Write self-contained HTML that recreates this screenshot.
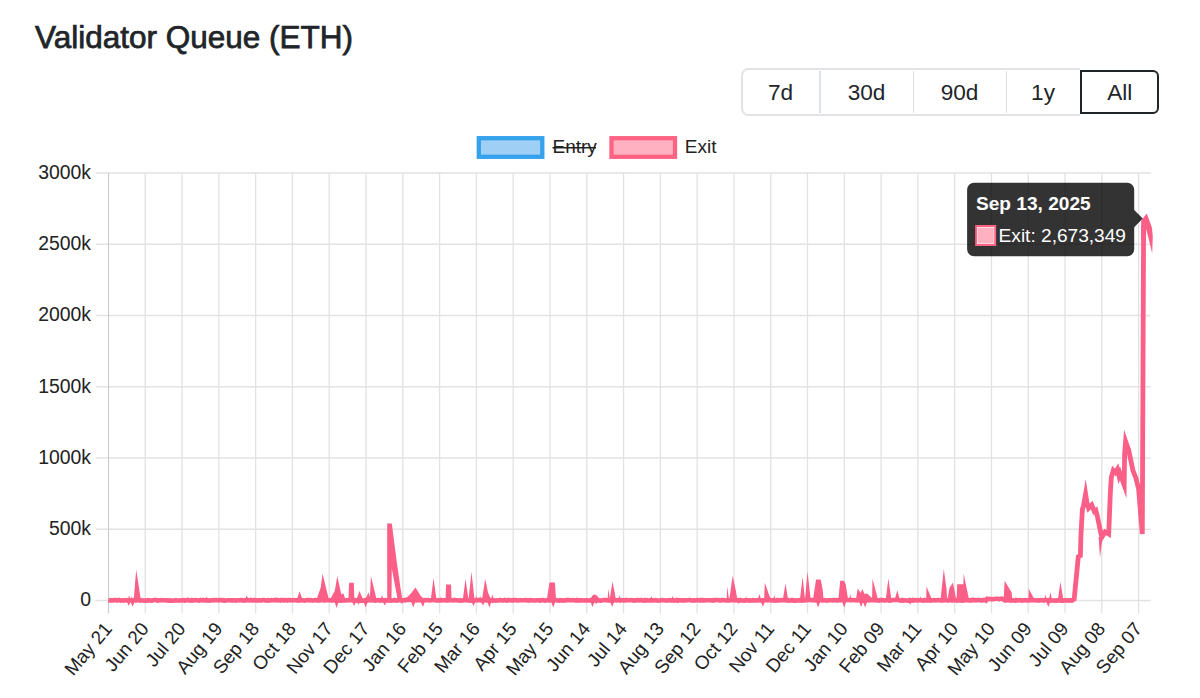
<!DOCTYPE html>
<html><head><meta charset="utf-8">
<style>
html,body{margin:0;padding:0;background:#fff;width:1200px;height:698px;overflow:hidden;}
body{position:relative;font-family:"Liberation Sans",sans-serif;color:#212529;}
.title{position:absolute;left:35px;top:22px;font-size:31.5px;line-height:1;-webkit-text-stroke:0.75px #212529;white-space:nowrap;color:#212529;}
.bg{position:absolute;left:741px;top:68px;width:418px;height:48px;box-sizing:border-box;border:2.8px solid #e1e3e7;border-radius:7.5px;}
.btn{position:absolute;top:69.0px;height:48px;box-sizing:border-box;font-size:22.6px;line-height:48px;text-align:center;color:#212529;}
.dv{position:absolute;top:71px;height:42px;width:1.5px;background:#dee2e6;}
.active{position:absolute;left:1080px;top:69.8px;width:79.3px;height:44px;box-sizing:border-box;border:2px solid #212529;border-radius:0 6px 6px 0;background:#fff;box-shadow:0 -2.8px 0 0 #fff,0 2.8px 0 0 #fff,2.8px 0 0 0 #fff,2px -2px 0 0 #fff,2px 2px 0 0 #fff;}
svg{position:absolute;left:0;top:0;}
</style></head><body>
<div class="title">Validator Queue (ETH)</div>
<div class="bg"></div>
<div class="dv" style="left:819px"></div>
<div class="dv" style="left:912.5px"></div>
<div class="dv" style="left:1005.7px"></div>
<div class="btn" style="left:741px;width:79px">7d</div>
<div class="btn" style="left:820px;width:93px">30d</div>
<div class="btn" style="left:913px;width:93px">90d</div>
<div class="btn" style="left:1006px;width:74px">1y</div>
<div class="active"></div>
<div class="btn" style="left:1080px;width:79.5px">All</div>
<svg width="1200" height="698" viewBox="0 0 1200 698">
<g stroke="#e2e2e2" stroke-width="1.3" fill="none">
<line x1="108.5" y1="173.0" x2="108.5" y2="613.2"/>
<line x1="145.29" y1="173.0" x2="145.29" y2="613.2"/>
<line x1="182.08" y1="173.0" x2="182.08" y2="613.2"/>
<line x1="218.87" y1="173.0" x2="218.87" y2="613.2"/>
<line x1="255.66" y1="173.0" x2="255.66" y2="613.2"/>
<line x1="292.45" y1="173.0" x2="292.45" y2="613.2"/>
<line x1="329.24" y1="173.0" x2="329.24" y2="613.2"/>
<line x1="366.03" y1="173.0" x2="366.03" y2="613.2"/>
<line x1="402.82" y1="173.0" x2="402.82" y2="613.2"/>
<line x1="439.61" y1="173.0" x2="439.61" y2="613.2"/>
<line x1="476.4" y1="173.0" x2="476.4" y2="613.2"/>
<line x1="513.19" y1="173.0" x2="513.19" y2="613.2"/>
<line x1="549.98" y1="173.0" x2="549.98" y2="613.2"/>
<line x1="586.77" y1="173.0" x2="586.77" y2="613.2"/>
<line x1="623.56" y1="173.0" x2="623.56" y2="613.2"/>
<line x1="660.35" y1="173.0" x2="660.35" y2="613.2"/>
<line x1="697.14" y1="173.0" x2="697.14" y2="613.2"/>
<line x1="733.93" y1="173.0" x2="733.93" y2="613.2"/>
<line x1="770.72" y1="173.0" x2="770.72" y2="613.2"/>
<line x1="807.51" y1="173.0" x2="807.51" y2="613.2"/>
<line x1="844.3" y1="173.0" x2="844.3" y2="613.2"/>
<line x1="881.09" y1="173.0" x2="881.09" y2="613.2"/>
<line x1="917.88" y1="173.0" x2="917.88" y2="613.2"/>
<line x1="954.67" y1="173.0" x2="954.67" y2="613.2"/>
<line x1="991.46" y1="173.0" x2="991.46" y2="613.2"/>
<line x1="1028.25" y1="173.0" x2="1028.25" y2="613.2"/>
<line x1="1065.04" y1="173.0" x2="1065.04" y2="613.2"/>
<line x1="1101.83" y1="173.0" x2="1101.83" y2="613.2"/>
<line x1="1138.62" y1="173.0" x2="1138.62" y2="613.2"/>
<line x1="95.8" y1="173.0" x2="1150.6" y2="173.0"/>
<line x1="95.8" y1="244.25" x2="1150.6" y2="244.25"/>
<line x1="95.8" y1="315.5" x2="1150.6" y2="315.5"/>
<line x1="95.8" y1="386.75" x2="1150.6" y2="386.75"/>
<line x1="95.8" y1="458.0" x2="1150.6" y2="458.0"/>
<line x1="95.8" y1="529.25" x2="1150.6" y2="529.25"/>
<line x1="95.8" y1="600.5" x2="1150.6" y2="600.5"/>
</g>
<line x1="108.5" y1="173.0" x2="108.5" y2="613.2" stroke="#cdcdcd" stroke-width="1"/>
<g font-family="Liberation Sans, sans-serif" font-size="19.4" fill="#222">
<text x="91" y="178.9" text-anchor="end">3000k</text>
<text x="91" y="250.2" text-anchor="end">2500k</text>
<text x="91" y="321.4" text-anchor="end">2000k</text>
<text x="91" y="392.6" text-anchor="end">1500k</text>
<text x="91" y="463.9" text-anchor="end">1000k</text>
<text x="91" y="535.1" text-anchor="end">500k</text>
<text x="91" y="606.4" text-anchor="end">0</text>
</g>
<g font-family="Liberation Sans, sans-serif" font-size="18.9" fill="#222">
<text transform="translate(113.0,629.3) rotate(-50)" text-anchor="end">May 21</text>
<text transform="translate(149.8,629.3) rotate(-50)" text-anchor="end">Jun 20</text>
<text transform="translate(186.6,629.3) rotate(-50)" text-anchor="end">Jul 20</text>
<text transform="translate(223.4,629.3) rotate(-50)" text-anchor="end">Aug 19</text>
<text transform="translate(260.2,629.3) rotate(-50)" text-anchor="end">Sep 18</text>
<text transform="translate(296.9,629.3) rotate(-50)" text-anchor="end">Oct 18</text>
<text transform="translate(333.7,629.3) rotate(-50)" text-anchor="end">Nov 17</text>
<text transform="translate(370.5,629.3) rotate(-50)" text-anchor="end">Dec 17</text>
<text transform="translate(407.3,629.3) rotate(-50)" text-anchor="end">Jan 16</text>
<text transform="translate(444.1,629.3) rotate(-50)" text-anchor="end">Feb 15</text>
<text transform="translate(480.9,629.3) rotate(-50)" text-anchor="end">Mar 16</text>
<text transform="translate(517.7,629.3) rotate(-50)" text-anchor="end">Apr 15</text>
<text transform="translate(554.5,629.3) rotate(-50)" text-anchor="end">May 15</text>
<text transform="translate(591.3,629.3) rotate(-50)" text-anchor="end">Jun 14</text>
<text transform="translate(628.1,629.3) rotate(-50)" text-anchor="end">Jul 14</text>
<text transform="translate(664.9,629.3) rotate(-50)" text-anchor="end">Aug 13</text>
<text transform="translate(701.6,629.3) rotate(-50)" text-anchor="end">Sep 12</text>
<text transform="translate(738.4,629.3) rotate(-50)" text-anchor="end">Oct 12</text>
<text transform="translate(775.2,629.3) rotate(-50)" text-anchor="end">Nov 11</text>
<text transform="translate(812.0,629.3) rotate(-50)" text-anchor="end">Dec 11</text>
<text transform="translate(848.8,629.3) rotate(-50)" text-anchor="end">Jan 10</text>
<text transform="translate(885.6,629.3) rotate(-50)" text-anchor="end">Feb 09</text>
<text transform="translate(922.4,629.3) rotate(-50)" text-anchor="end">Mar 11</text>
<text transform="translate(959.2,629.3) rotate(-50)" text-anchor="end">Apr 10</text>
<text transform="translate(996.0,629.3) rotate(-50)" text-anchor="end">May 10</text>
<text transform="translate(1032.8,629.3) rotate(-50)" text-anchor="end">Jun 09</text>
<text transform="translate(1069.5,629.3) rotate(-50)" text-anchor="end">Jul 09</text>
<text transform="translate(1106.3,629.3) rotate(-50)" text-anchor="end">Aug 08</text>
<text transform="translate(1143.1,629.3) rotate(-50)" text-anchor="end">Sep 07</text>
</g>
<rect x="478.8" y="138.2" width="63.5" height="18.6" fill="#a0cff5" stroke="#36a2eb" stroke-width="4.3"/>
<text x="552.5" y="153.3" font-family="Liberation Sans, sans-serif" font-size="19" fill="#222">Entry</text>
<line x1="552.5" y1="147.8" x2="596" y2="147.8" stroke="#222" stroke-width="1.5"/>
<rect x="611.5" y="138.2" width="63.5" height="18.6" fill="#ffb1c1" stroke="#ff6384" stroke-width="4.3"/>
<text x="684.8" y="153.3" font-family="Liberation Sans, sans-serif" font-size="19" fill="#222">Exit</text>
<g fill="none" stroke="#fb5e86" stroke-linejoin="miter" stroke-miterlimit="10">
<path d="M108.40,600.12 L109.63,600.33 L110.85,600.21 L112.08,600.37 L113.31,600.39 L114.54,600.00 L115.76,599.96 L116.99,600.54 L118.22,600.13 L119.45,600.11 L120.67,600.65 L121.90,600.28 L123.13,600.54 L124.36,600.28 L125.58,600.40 L126.81,600.06 L128.04,600.39 L129.26,600.56 L130.49,600.32 L131.72,600.47 L132.95,600.42 L134.17,599.99 L135.40,600.48 L136.63,600.36 L137.86,600.16 L139.08,599.97 L140.31,600.56 L141.54,600.28 L142.77,600.45 L143.99,600.57 L145.22,600.45 L146.45,600.59 L147.67,600.23 L148.90,600.51 L150.13,600.26 L151.36,600.60 L152.58,600.57 L153.81,600.02 L155.04,600.05 L156.27,600.10 L157.49,600.63 L158.72,600.26 L159.95,600.39 L161.18,600.16 L162.40,600.31 L163.63,600.22 L164.86,600.20 L166.08,600.36 L167.31,600.36 L168.54,600.58 L169.77,600.43 L170.99,600.60 L172.22,600.55 L173.45,600.64 L174.68,600.42 L175.90,600.06 L177.13,600.55 L178.36,600.63 L179.59,600.58 L180.81,600.35 L182.04,600.45 L183.27,600.10 L184.49,600.53 L185.72,600.35 L186.95,600.15 L188.18,599.99 L189.40,600.55 L190.63,600.64 L191.86,600.01 L193.09,600.51 L194.31,600.24 L195.54,600.06 L196.77,600.16 L198.00,600.49 L199.22,600.56 L200.45,599.98 L201.68,600.38 L202.90,599.98 L204.13,600.45 L205.36,600.18 L206.59,600.57 L207.81,600.64 L209.04,600.30 L210.27,600.65 L211.50,600.17 L212.72,600.00 L213.95,600.37 L215.18,599.97 L216.41,600.09 L217.63,600.24 L218.86,600.38 L220.09,600.06 L221.31,599.98 L222.54,600.56 L223.77,600.17 L225.00,600.62 L226.22,600.58 L227.45,600.21 L228.68,600.27 L229.91,600.31 L231.13,600.40 L232.36,600.37 L233.59,600.34 L234.82,600.38 L236.04,600.61 L237.27,600.30 L238.50,600.25 L239.72,600.45 L240.95,600.12 L242.18,600.16 L243.41,600.63 L244.63,600.31 L245.86,600.33 L247.09,599.96 L248.32,600.24 L249.54,600.36 L250.77,599.96 L252.00,600.38 L253.23,600.39 L254.45,599.99 L255.68,600.39 L256.91,600.28 L258.13,600.43 L259.36,600.20 L260.59,600.44 L261.82,600.47 L263.04,599.97 L264.27,599.99 L265.50,600.42 L266.73,600.62 L267.95,600.13 L269.18,600.27 L270.41,600.36 L271.64,600.17 L272.86,600.20 L274.09,600.17 L275.32,600.21 L276.54,600.37 L277.77,600.16 L279.00,600.21 L280.23,600.49 L281.45,599.97 L282.68,600.35 L283.91,600.46 L285.14,600.17 L286.36,600.11 L287.59,600.51 L288.82,600.12 L290.05,600.08 L291.27,600.25 L292.50,600.44 L293.73,600.02 L294.95,600.18 L296.18,600.18 L297.41,600.53 L298.64,600.26 L299.86,600.55 L301.09,600.07 L302.32,600.19 L303.55,600.41 L304.77,600.57 L306.00,600.27 L307.23,600.11 L308.46,600.03 L309.68,600.32 L310.91,600.08 L312.14,600.51 L313.36,600.54 L314.59,600.08 L315.82,600.15 L317.05,600.52 L318.27,600.40 L319.50,600.51 L320.73,600.19 L321.96,600.04 L323.18,600.15 L324.41,600.51 L325.64,600.14 L326.87,600.19 L328.09,600.24 L329.32,600.24 L330.55,600.24 L331.77,600.59 L333.00,600.06 L334.23,599.95 L335.46,600.61 L336.68,600.57 L337.91,600.64 L339.14,600.25 L340.37,600.62 L341.59,600.60 L342.82,600.11 L344.05,600.47 L345.28,600.54 L346.50,600.41 L347.73,600.31 L348.96,600.15 L350.18,600.19 L351.41,600.11 L352.64,600.00 L353.87,600.36 L355.09,600.15 L356.32,600.52 L357.55,599.98 L358.78,600.58 L360.00,600.44 L361.23,600.60 L362.46,600.58 L363.69,600.58 L364.91,600.35 L366.14,599.96 L367.37,600.47 L368.59,600.07 L369.82,600.16 L371.05,600.41 L372.28,600.32 L373.50,600.24 L374.73,600.61 L375.96,600.38 L377.19,600.19 L378.41,600.13 L379.64,600.55 L380.87,600.28 L382.10,600.50 L383.32,600.20 L384.55,600.09 L385.78,600.32 L387.00,600.52 L388.23,600.07 L389.46,600.50 L390.69,600.60 L391.91,600.51 L393.14,600.53 L394.37,599.96 L395.60,600.39 L396.82,600.55 L398.05,599.98 L399.28,600.14 L400.51,600.14 L401.73,600.32 L402.96,600.25 L404.19,600.28 L405.41,600.49 L406.64,599.95 L407.87,599.99 L409.10,600.04 L410.32,600.04 L411.55,600.00 L412.78,600.63 L414.01,600.55 L415.23,600.01 L416.46,600.30 L417.69,600.17 L418.92,600.17 L420.14,600.20 L421.37,600.40 L422.60,600.36 L423.82,600.20 L425.05,600.08 L426.28,600.18 L427.51,600.04 L428.73,600.34 L429.96,600.45 L431.19,600.22 L432.42,600.01 L433.64,600.07 L434.87,600.21 L436.10,600.37 L437.33,600.50 L438.55,600.22 L439.78,600.51 L441.01,600.39 L442.23,600.25 L443.46,600.21 L444.69,600.30 L445.92,600.44 L447.14,600.24 L448.37,600.44 L449.60,600.27 L450.83,600.12 L452.05,600.33 L453.28,600.44 L454.51,600.00 L455.74,600.25 L456.96,600.25 L458.19,600.57 L459.42,600.61 L460.64,600.21 L461.87,600.58 L463.10,600.50 L464.33,600.13 L465.55,600.27 L466.78,600.04 L468.01,600.52 L469.24,600.41 L470.46,600.57 L471.69,600.50 L472.92,600.42 L474.15,600.46 L475.37,600.34 L476.60,600.02 L477.83,600.36 L479.05,599.95 L480.28,600.05 L481.51,600.49 L482.74,599.98 L483.96,600.01 L485.19,600.02 L486.42,600.57 L487.65,600.08 L488.87,599.97 L490.10,600.54 L491.33,600.03 L492.56,600.54 L493.78,600.42 L495.01,600.54 L496.24,600.62 L497.46,600.36 L498.69,600.51 L499.92,599.98 L501.15,600.49 L502.37,600.31 L503.60,600.45 L504.83,600.02 L506.06,600.47 L507.28,600.60 L508.51,599.99 L509.74,600.18 L510.97,600.34 L512.19,600.53 L513.42,600.12 L514.65,600.08 L515.87,600.12 L517.10,600.38 L518.33,600.48 L519.56,600.23 L520.78,600.21 L522.01,600.23 L523.24,600.20 L524.47,600.24 L525.69,600.01 L526.92,600.30 L528.15,600.63 L529.38,600.24 L530.60,600.47 L531.83,600.06 L533.06,600.43 L534.28,600.48 L535.51,600.42 L536.74,600.31 L537.97,600.29 L539.19,600.40 L540.42,600.58 L541.65,600.05 L542.88,600.02 L544.10,600.47 L545.33,600.59 L546.56,600.31 L547.79,600.26 L549.01,600.45 L550.24,600.08 L551.47,600.14 L552.69,600.09 L553.92,600.36 L555.15,600.17 L556.38,600.11 L557.60,600.43 L558.83,600.62 L560.06,600.16 L561.29,600.44 L562.51,600.24 L563.74,600.55 L564.97,600.36 L566.20,600.14 L567.42,600.10 L568.65,599.97 L569.88,600.29 L571.10,600.22 L572.33,600.07 L573.56,600.20 L574.79,600.18 L576.01,600.49 L577.24,600.05 L578.47,600.64 L579.70,600.29 L580.92,600.37 L582.15,600.28 L583.38,600.53 L584.61,600.53 L585.83,600.34 L587.06,600.29 L588.29,600.45 L589.51,600.55 L590.74,600.23 L591.97,600.46 L593.20,600.62 L594.42,600.28 L595.65,600.11 L596.88,600.11 L598.11,600.45 L599.33,600.42 L600.56,600.62 L601.79,600.55 L603.02,600.12 L604.24,600.08 L605.47,600.13 L606.70,600.08 L607.92,600.44 L609.15,600.55 L610.38,600.58 L611.61,600.13 L612.83,600.56 L614.06,600.17 L615.29,600.25 L616.52,600.46 L617.74,600.01 L618.97,600.01 L620.20,600.53 L621.43,600.15 L622.65,600.20 L623.88,600.36 L625.11,600.42 L626.33,599.95 L627.56,600.18 L628.79,600.26 L630.02,600.29 L631.24,600.10 L632.47,600.36 L633.70,600.62 L634.93,600.22 L636.15,600.33 L637.38,600.03 L638.61,600.14 L639.84,600.42 L641.06,600.03 L642.29,600.57 L643.52,600.59 L644.74,600.02 L645.97,600.61 L647.20,600.21 L648.43,600.49 L649.65,600.48 L650.88,600.16 L652.11,600.42 L653.34,600.41 L654.56,600.51 L655.79,600.14 L657.02,600.48 L658.25,600.62 L659.47,600.42 L660.70,600.33 L661.93,600.03 L663.15,600.30 L664.38,600.20 L665.61,600.45 L666.84,600.42 L668.06,600.35 L669.29,600.08 L670.52,600.40 L671.75,600.39 L672.97,600.08 L674.20,600.57 L675.43,600.41 L676.66,600.04 L677.88,600.60 L679.11,600.05 L680.34,600.18 L681.56,600.45 L682.79,600.37 L684.02,600.34 L685.25,600.40 L686.47,600.27 L687.70,600.17 L688.93,600.07 L690.16,600.00 L691.38,600.45 L692.61,600.48 L693.84,600.33 L695.07,600.47 L696.29,600.20 L697.52,600.14 L698.75,600.22 L699.97,600.56 L701.20,599.98 L702.43,600.30 L703.66,600.12 L704.88,600.49 L706.11,600.20 L707.34,600.18 L708.57,600.23 L709.79,600.33 L711.02,600.49 L712.25,600.20 L713.48,600.54 L714.70,600.03 L715.93,600.14 L717.16,600.02 L718.38,600.03 L719.61,600.50 L720.84,600.46 L722.07,600.08 L723.29,600.08 L724.52,600.24 L725.75,600.47 L726.98,600.52 L728.20,600.47 L729.43,600.36 L730.66,600.05 L731.89,600.23 L733.11,600.09 L734.34,600.32 L735.57,600.35 L736.79,600.09 L738.02,600.13 L739.25,600.50 L740.48,599.97 L741.70,600.51 L742.93,600.57 L744.16,600.61 L745.39,600.22 L746.61,600.34 L747.84,600.36 L749.07,600.39 L750.30,600.63 L751.52,600.43 L752.75,600.16 L753.98,600.55 L755.20,600.29 L756.43,600.37 L757.66,600.46 L758.89,599.95 L760.11,600.49 L761.34,600.41 L762.57,600.29 L763.80,600.32 L765.02,600.27 L766.25,600.09 L767.48,600.32 L768.71,599.98 L769.93,600.30 L771.16,600.40 L772.39,600.26 L773.61,600.35 L774.84,600.62 L776.07,600.57 L777.30,600.04 L778.52,600.50 L779.75,600.39 L780.98,599.99 L782.21,600.20 L783.43,600.11 L784.66,600.00 L785.89,600.33 L787.12,600.60 L788.34,600.18 L789.57,600.56 L790.80,600.44 L792.02,600.04 L793.25,600.55 L794.48,600.37 L795.71,600.60 L796.93,600.45 L798.16,600.47 L799.39,600.19 L800.62,600.51 L801.84,600.60 L803.07,600.55 L804.30,600.26 L805.53,600.48 L806.75,600.29 L807.98,600.03 L809.21,599.98 L810.43,600.00 L811.66,600.09 L812.89,600.06 L814.12,600.30 L815.34,600.44 L816.57,600.33 L817.80,600.25 L819.03,600.40 L820.25,600.16 L821.48,600.28 L822.71,600.48 L823.94,600.23 L825.16,600.08 L826.39,600.58 L827.62,600.45 L828.84,600.21 L830.07,600.21 L831.30,600.32 L832.53,600.37 L833.75,600.11 L834.98,599.95 L836.21,600.10 L837.44,600.50 L838.66,600.05 L839.89,600.27 L841.12,600.09 L842.35,600.10 L843.57,600.07 L844.80,600.23 L846.03,600.07 L847.25,599.97 L848.48,600.03 L849.71,600.07 L850.94,600.29 L852.16,599.99 L853.39,599.97 L854.62,600.26 L855.85,600.24 L857.07,600.44 L858.30,599.99 L859.53,600.23 L860.76,600.23 L861.98,599.97 L863.21,600.63 L864.44,600.10 L865.66,600.02 L866.89,600.28 L868.12,600.07 L869.35,600.39 L870.57,600.19 L871.80,600.04 L873.03,599.99 L874.26,600.46 L875.48,600.14 L876.71,600.50 L877.94,600.28 L879.17,600.60 L880.39,600.16 L881.62,600.12 L882.85,600.14 L884.07,600.52 L885.30,600.39 L886.53,600.19 L887.76,600.02 L888.98,600.43 L890.21,600.63 L891.44,600.36 L892.67,599.95 L893.89,599.97 L895.12,600.01 L896.35,600.07 L897.58,599.98 L898.80,599.99 L900.03,600.41 L901.26,600.58 L902.48,600.09 L903.71,600.63 L904.94,600.28 L906.17,600.51 L907.39,600.59 L908.62,600.61 L909.85,599.97 L911.08,600.16 L912.30,600.37 L913.53,600.61 L914.76,600.01 L915.99,600.16 L917.21,600.54 L918.44,600.03 L919.67,600.22 L920.89,600.18 L922.12,600.43 L923.35,600.60 L924.58,600.07 L925.80,600.47 L927.03,600.46 L928.26,600.53 L929.49,600.34 L930.71,600.60 L931.94,600.20 L933.17,600.24 L934.40,600.11 L935.62,600.50 L936.85,600.29 L938.08,600.14 L939.30,600.07 L940.53,600.45 L941.76,600.37 L942.99,600.45 L944.21,600.22 L945.44,600.29 L946.67,600.06 L947.90,600.45 L949.12,599.97 L950.35,600.28 L951.58,600.48 L952.81,600.42 L954.03,600.02 L955.26,600.12 L956.49,600.54 L957.71,600.40 L958.94,600.56 L960.17,600.56 L961.40,600.26 L962.62,600.58 L963.85,600.46 L965.08,600.18 L966.31,600.21 L967.53,600.00 L968.76,600.23 L969.99,600.62 L971.22,600.02 L972.44,600.35 L973.67,600.03 L974.90,600.01 L976.12,600.40 L977.35,600.12 L978.58,599.98 L979.81,600.06 L981.03,600.40 L982.26,600.36 L983.49,599.96 L984.72,600.11 L985.94,600.63 L987.17,598.80 L988.40,599.04 L989.63,598.94 L990.85,599.20 L992.08,599.07 L993.31,599.20 L994.53,599.02 L995.76,598.78 L996.99,598.77 L998.22,598.71 L999.44,599.23 L1000.67,598.73 L1001.90,598.67 L1003.13,599.33 L1004.35,600.09 L1005.58,600.58 L1006.81,600.01 L1008.04,600.28 L1009.26,600.11 L1010.49,600.53 L1011.72,600.38 L1012.94,600.40 L1014.17,600.48 L1015.40,600.56 L1016.63,600.19 L1017.85,600.37 L1019.08,600.26 L1020.31,600.03 L1021.54,600.53 L1022.76,600.37 L1023.99,600.52 L1025.22,600.09 L1026.45,600.33 L1027.67,600.27 L1028.90,600.46 L1030.13,600.00 L1031.35,600.19 L1032.58,600.29 L1033.81,600.00 L1035.04,600.34 L1036.26,600.46 L1037.49,600.25 L1038.72,600.40 L1039.95,600.37 L1041.17,600.10 L1042.40,600.20 L1043.63,600.65 L1044.86,600.18 L1046.08,600.25 L1047.31,600.01 L1048.54,600.10 L1049.76,600.07 L1050.99,600.60 L1052.22,600.46 L1053.45,600.56 L1054.67,600.64 L1055.90,600.38 L1057.13,600.60 L1058.36,600.33 L1059.58,600.24 L1060.81,600.61 L1062.04,600.58 L1063.27,600.61 L1064.49,600.29 L1065.72,600.49 L1066.95,600.23 L1068.17,600.65 L1069.40,600.59 L1070.63,600.15 L1071.86,600.60 L1073.50,600.30" stroke-width="4.6"/>
<path d="M1072.50,600.30 L1074.20,599.00 L1077.30,567.00 L1078.30,556.60 L1080.40,555.60 L1080.90,536.00 L1082.40,509.20 L1083.50,506.00 L1085.60,494.00 L1087.00,503.00 L1088.60,508.20 L1091.70,505.00 L1094.30,511.30 L1095.80,510.30 L1097.40,516.50 L1101.00,534.00 L1102.00,537.00 L1105.10,532.00 L1108.70,534.00 L1110.30,493.80 L1111.30,477.30 L1113.30,470.30 L1115.40,472.40 L1117.40,469.30 L1119.00,476.00 L1120.00,473.40 L1124.20,485.00 L1124.60,454.80 L1125.60,441.50 L1128.80,450.70 L1132.90,470.30 L1136.00,478.50 L1138.60,488.90 L1142.30,534.00 L1143.60,226.00" stroke-width="4.8"/>
</g>
<path d="M128.00,599.80 L129.00,595.00 L130.20,599.80Z M130.60,599.80 L131.50,596.00 L132.50,599.80Z M126.40,601.00 L128.70,605.70 L131.00,601.00Z M130.30,601.00 L132.60,606.80 L134.90,601.00Z M133.70,599.80 L136.20,569.50 L140.80,599.80Z M205.30,599.80 L206.80,596.60 L208.30,599.80Z M244.80,599.80 L246.50,595.40 L248.50,599.80Z M274.80,599.80 L276.00,596.60 L277.50,599.80Z M282.60,599.80 L283.90,597.00 L285.20,599.80Z M266.40,601.00 L268.70,603.00 L271.00,601.00Z M296.70,599.80 L299.60,591.30 L302.50,599.80Z M317.10,599.80 L317.10,598.00 L320.80,587.20 L322.50,573.75 L328.50,598.00 L328.50,599.80Z M334.30,601.00 L336.60,608.10 L338.90,601.00Z M330.90,599.80 L330.90,598.00 L334.90,590.60 L337.30,576.10 L341.30,594.60 L343.30,593.30 L345.00,598.00 L345.00,599.80Z M348.46,599.80 L349.06,582.80 L353.80,582.80 L354.40,599.80Z M351.80,601.00 L354.10,606.10 L356.40,601.00Z M356.50,599.80 L359.50,590.90 L363.20,599.80Z M356.20,601.00 L358.50,604.40 L360.80,601.00Z M363.30,601.00 L365.60,607.40 L367.90,601.00Z M365.20,599.80 L368.60,592.30 L370.20,599.80Z M369.60,599.80 L369.60,598.00 L370.30,590.00 L370.90,576.10 L376.30,598.00 L376.30,599.80Z M380.00,599.80 L382.00,595.60 L383.70,599.80Z M382.40,601.00 L384.70,605.40 L387.00,601.00Z M387.20,599.80 L387.20,598.00 L387.20,523.60 L391.80,523.60 L396.40,559.40 L400.80,590.00 L402.20,598.30 L397.40,598.30 L391.80,568.50 L391.50,598.00 L391.50,599.80Z M399.60,601.00 L401.90,604.00 L404.20,601.00Z M401.30,599.80 L401.30,598.30 L407.20,597.20 L410.90,593.50 L415.40,587.40 L418.30,592.00 L420.90,596.20 L423.60,598.30 L423.60,599.80Z M411.00,601.00 L413.30,607.40 L415.60,601.00Z M420.70,601.00 L423.00,606.70 L425.30,601.00Z M420.40,601.00 L422.70,606.40 L425.00,601.00Z M430.80,599.80 L433.50,578.10 L436.50,599.80Z M440.00,599.80 L440.90,596.30 L442.00,599.80Z M445.50,599.80 L446.10,584.50 L451.00,584.50 L451.60,599.80Z M462.80,599.80 L465.50,579.10 L468.50,599.80Z M468.50,599.80 L471.50,571.70 L474.50,599.80Z M471.20,601.00 L473.50,606.00 L475.80,601.00Z M475.20,599.80 L476.20,595.30 L477.40,599.80Z M479.30,599.80 L480.30,596.00 L481.40,599.80Z M480.70,601.00 L483.00,605.40 L485.30,601.00Z M482.30,599.80 L482.30,598.00 L485.20,578.80 L488.00,592.60 L490.40,598.00 L490.40,599.80Z M487.10,601.00 L489.40,607.40 L491.70,601.00Z M491.20,599.80 L492.40,594.30 L493.80,599.80Z M547.10,599.80 L547.10,598.00 L549.50,582.50 L554.90,582.50 L555.90,598.00 L555.90,599.80Z M550.90,601.00 L553.20,607.40 L555.50,601.00Z M590.80,599.80 L590.80,598.00 L593.00,595.00 L594.80,594.60 L596.80,595.50 L598.90,598.00 L598.90,599.80Z M590.20,601.00 L592.50,607.10 L594.80,601.00Z M593.90,601.00 L596.20,604.00 L598.50,601.00Z M607.60,599.80 L608.30,588.90 L610.00,599.80Z M609.60,599.80 L612.50,581.50 L616.00,599.80Z M609.90,601.00 L612.20,606.80 L614.50,601.00Z M618.40,599.80 L619.40,595.30 L621.00,599.80Z M650.00,599.80 L651.40,596.30 L653.00,599.80Z M671.00,599.80 L672.50,596.00 L674.00,599.80Z M726.60,599.80 L727.30,586.50 L729.00,599.80Z M729.50,599.80 L729.50,598.00 L732.70,575.80 L736.10,592.00 L737.00,598.00 L737.00,599.80Z M736.20,601.00 L738.50,603.70 L740.80,601.00Z M745.00,599.80 L746.10,596.30 L747.30,599.80Z M758.00,599.80 L759.50,594.00 L761.20,599.80Z M760.60,601.00 L762.90,606.80 L765.20,601.00Z M764.20,599.80 L764.20,598.00 L764.80,582.80 L769.60,596.60 L770.50,598.00 L770.50,599.80Z M773.00,599.80 L774.30,595.30 L775.60,599.80Z M782.80,599.80 L785.50,583.50 L788.10,599.80Z M799.90,599.80 L802.60,577.10 L805.00,599.80Z M805.00,599.80 L807.50,571.40 L810.70,599.80Z M813.40,599.80 L813.40,596.60 L816.10,579.50 L820.70,579.50 L822.70,590.00 L823.40,598.00 L823.40,599.80Z M815.80,601.00 L818.10,607.40 L820.40,601.00Z M838.50,599.80 L838.50,598.00 L840.20,580.80 L843.90,580.80 L845.60,583.90 L847.90,598.00 L847.90,599.80Z M841.90,601.00 L844.20,607.40 L846.50,601.00Z M849.30,599.80 L850.30,594.30 L851.60,599.80Z M856.20,599.80 L856.20,598.00 L857.70,588.60 L860.60,593.00 L862.40,588.90 L864.50,594.00 L867.10,593.60 L871.80,598.00 L871.80,599.80Z M858.80,601.00 L861.10,607.10 L863.40,601.00Z M862.80,601.00 L865.10,607.40 L867.40,601.00Z M872.10,599.80 L872.10,598.00 L872.50,578.80 L877.60,598.00 L877.60,599.80Z M885.70,599.80 L888.40,578.50 L891.40,599.80Z M894.70,599.80 L897.30,590.30 L899.80,599.80Z M907.80,601.00 L910.10,604.40 L912.40,601.00Z M912.00,599.80 L912.80,596.60 L913.80,599.80Z M919.50,599.80 L920.50,596.30 L921.50,599.80Z M926.20,599.80 L926.20,598.00 L926.50,586.50 L931.30,598.00 L931.30,599.80Z M940.70,599.80 L940.70,598.00 L943.80,569.00 L946.50,589.00 L947.00,598.00 L947.00,599.80Z M947.80,599.80 L947.80,598.00 L949.50,587.90 L952.90,582.50 L955.90,598.00 L955.90,599.80Z M956.60,599.80 L957.20,584.20 L963.60,584.20 L964.20,599.80Z M963.20,599.80 L963.20,598.00 L963.60,573.40 L968.70,598.00 L968.70,599.80Z M972.00,599.80 L973.00,596.30 L974.00,599.80Z M1003.80,599.80 L1003.80,598.00 L1004.60,580.80 L1011.70,592.50 L1012.10,598.00 L1012.10,599.80Z M1014.80,599.80 L1015.80,596.70 L1016.80,599.80Z M1028.50,599.80 L1028.50,598.00 L1028.75,588.75 L1033.75,598.30 L1033.75,599.80Z M1044.20,599.80 L1045.40,594.60 L1046.60,599.80Z M1046.00,601.00 L1048.30,607.10 L1050.60,601.00Z M1049.00,599.80 L1050.40,592.10 L1052.00,599.80Z M1057.90,599.80 L1060.40,581.70 L1063.30,599.80Z M1098.60,537.00 L1100.00,557.60 L1102.60,537.00Z M1141.20,240.00 L1141.20,220.50 L1146.80,213.60 L1151.90,227.40 L1152.80,236.80 L1152.20,253.20 L1146.20,229.00 L1145.90,240.00Z" fill="#fb5e86"/>
<path d="M974.1,182.7 H1127.2 A7,7 0 0 1 1134.2,189.7 V210 L1142.7,218.6 L1134.2,227.2 V249.2 A7,7 0 0 1 1127.2,256.2 H974.1 A7,7 0 0 1 967.1,249.2 V189.7 A7,7 0 0 1 974.1,182.7 Z" fill="rgba(0,0,0,0.8)"/>
<text x="976" y="209.8" font-family="Liberation Sans, sans-serif" font-weight="bold" font-size="19.1" fill="#fff">Sep 13, 2025</text>
<rect x="976.2" y="226" width="19" height="19" fill="#ffffff" stroke="#ff6384" stroke-width="2"/>
<rect x="977.7" y="227.5" width="16" height="16" fill="#ffb1c1"/>
<text x="998.6" y="241.8" font-family="Liberation Sans, sans-serif" font-size="19.1" fill="#fff">Exit: 2,673,349</text>
</svg>
</body></html>
